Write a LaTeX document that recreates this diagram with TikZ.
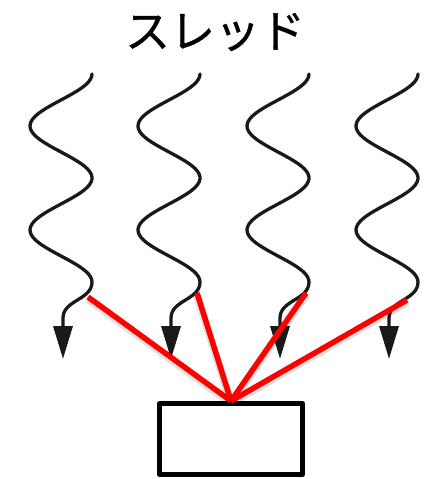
\documentclass[tikz,border=0pt]{standalone}
\usepackage{fontspec}
\newfontfamily\jpfont[FakeBold=0.8]{Noto Sans CJK JP}
\usetikzlibrary{arrows.meta}

\tikzset{
  wave/.style={draw=black!90, line width=3.3pt, line cap=round,
    -{Triangle[width=19pt,length=33pt]}},
  link/.style={draw=red, line width=5.5pt,
    preaction={draw=black, draw opacity=0.12, line width=8pt,
      transform canvas={yshift=-2pt}}},
  block/.style={draw=black, line width=5pt, line join=round,
    minimum width=143pt, minimum height=71pt, inner sep=0pt}
}

\begin{document}
\begin{tikzpicture}[x=1pt,y=1pt]
    \useasboundingbox (0,0) rectangle (431,-479);

    \node[font=\jpfont\fontsize{45}{50}\selectfont] (title) at (215,-32) {スレッド};

    % four threads, each a wavy line ending in an arrow
    \foreach \c/\dx/\dy/\n in {61/27/297/1, 169/28/293/2, 278/28/293/3, 387/20/300/4} {
        \draw[wave] plot[domain=74:282, samples=80] ({\c+31*cos((\x-74)/52*180)}, {-\x})
            to[out=-90, in=90] (\c+2,-318) -- (\c+2,-359);
        \coordinate (t\n) at (\c+\dx, -\dy);
    }

    \node[block] (box) at (231,-439) {};

    \foreach \n in {1,...,4}
        \draw[link] (t\n) -- (box.north);

\end{tikzpicture}
\end{document}
